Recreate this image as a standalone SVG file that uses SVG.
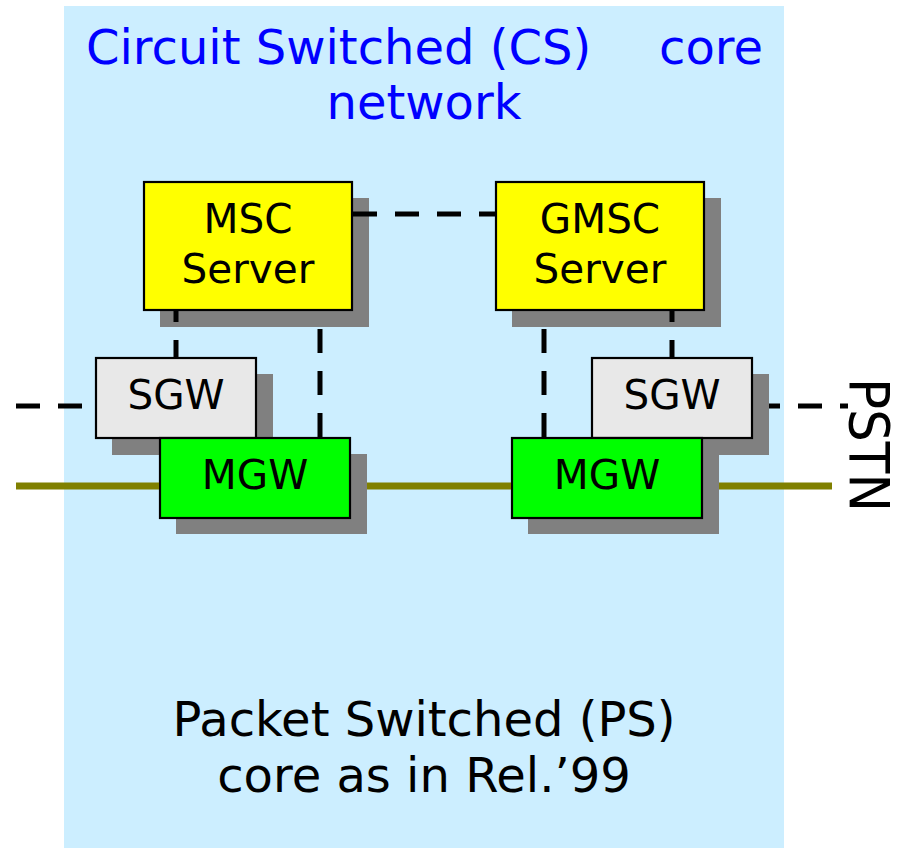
<svg xmlns="http://www.w3.org/2000/svg" width="903" height="848" viewBox="0 0 903 848">
<style>
text{font-family:"DejaVu Sans",Verdana,sans-serif;}
.lbl{font-size:40.5px;fill:#000;text-anchor:middle;}
.big{font-size:48px;}
.shadow{fill:#808080;}
.box{stroke:#000;stroke-width:2.2;}
.msc{fill:#ffff00;}
.sgw{fill:#e8e8e8;}
.mgw{fill:#00ff00;}
.dash{stroke:#000;stroke-width:5;stroke-dasharray:24 18;fill:none;}
.olive{stroke:#808000;stroke-width:7;fill:none;}
</style>
<rect id="cs-core" x="64" y="6" width="720" height="842" fill="#cceeff"/>
<g id="title">
<text class="big" fill="#0000ff"><tspan x="86" y="64">Circuit Switched (CS)</tspan><tspan x="659" y="64">core</tspan><tspan x="424" y="119" text-anchor="middle">network</tspan></text>
</g>
<g id="ps-core">
<text class="big" fill="#000" text-anchor="middle"><tspan x="424" y="736">Packet Switched (PS)</tspan><tspan x="424" y="792">core as in Rel.’99</tspan></text>
</g>
<g id="msc-server">
<rect class="shadow" x="160" y="198" width="209" height="129"/>
<rect class="box msc" x="144" y="182" width="208" height="128"/>
<text class="lbl"><tspan x="248" y="233">MSC</tspan><tspan x="248" y="283">Server</tspan></text>
</g>
<g id="gmsc-server">
<rect class="shadow" x="512" y="198" width="209" height="129"/>
<rect class="box msc" x="496" y="182" width="208" height="128"/>
<text class="lbl"><tspan x="600" y="233">GMSC</tspan><tspan x="600" y="283">Server</tspan></text>
</g>
<g id="sgw-left">
<rect class="shadow" x="112" y="374" width="161" height="81"/>
<rect class="box sgw" x="96" y="358" width="160" height="80"/>
<text class="lbl" x="176" y="409">SGW</text>
</g>
<g id="mgw-left">
<rect class="shadow" x="176" y="454" width="191" height="80"/>
<rect class="box mgw" x="160" y="438" width="190" height="80"/>
<text class="lbl" x="255" y="489">MGW</text>
</g>
<g id="sgw-right">
<rect class="shadow" x="608" y="374" width="161" height="81"/>
<rect class="box sgw" x="592" y="358" width="160" height="80"/>
<text class="lbl" x="672" y="409">SGW</text>
</g>
<g id="mgw-right">
<rect class="shadow" x="528" y="454" width="191" height="80"/>
<rect class="box mgw" x="512" y="438" width="190" height="80"/>
<text class="lbl" x="607" y="489">MGW</text>
</g>
<g id="connectors">
<line class="olive" x1="16" y1="486" x2="159" y2="486"/>
<line class="olive" x1="367" y1="486" x2="511" y2="486"/>
<line class="olive" x1="719" y1="486" x2="832" y2="486"/>
<line class="dash" x1="353" y1="214" x2="495" y2="214"/>
<line class="dash" x1="16" y1="406" x2="95" y2="406"/>
<line class="dash" x1="769" y1="406" x2="848" y2="406" stroke-dashoffset="13"/>
<line class="dash" x1="176" y1="357" x2="176" y2="311" stroke-dashoffset="7"/>
<line class="dash" x1="320" y1="437" x2="320" y2="311"/>
<line class="dash" x1="544" y1="437" x2="544" y2="311"/>
<line class="dash" x1="672" y1="357" x2="672" y2="311" stroke-dashoffset="7"/>
</g>
<g id="pstn">
<text transform="translate(850,378) rotate(90)" font-size="56" textLength="134" lengthAdjust="spacingAndGlyphs">PSTN</text>
</g>
</svg>
